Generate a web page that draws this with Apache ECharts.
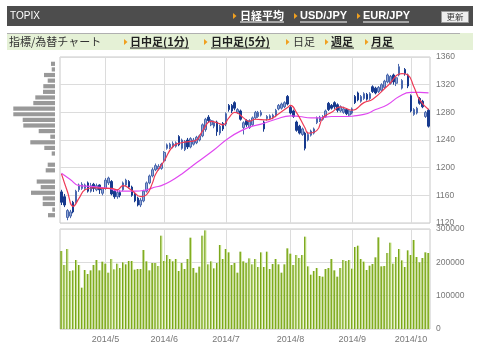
<!DOCTYPE html>
<html>
<head>
<meta charset="utf-8">
<script src="https://cdn.jsdelivr.net/npm/echarts@6/dist/echarts.min.js"></script>
<style>
html,body{margin:0;padding:0;background:#fff}
#main{width:480px;height:355px}
</style>
</head>
<body>
<div id="main"></div>
<script>
// trading days shown on the chart
var dates = [
  '2014/04/09','2014/04/10','2014/04/11','2014/04/14','2014/04/15','2014/04/16','2014/04/17','2014/04/18','2014/04/21','2014/04/22','2014/04/23','2014/04/24','2014/04/25','2014/04/28','2014/04/30',
  '2014/05/01','2014/05/02','2014/05/07','2014/05/08','2014/05/09','2014/05/12','2014/05/13','2014/05/14','2014/05/15','2014/05/16','2014/05/19','2014/05/20','2014/05/21','2014/05/22','2014/05/23','2014/05/26','2014/05/27','2014/05/28','2014/05/29','2014/05/30',
  '2014/06/02','2014/06/03','2014/06/04','2014/06/05','2014/06/06','2014/06/09','2014/06/10','2014/06/11','2014/06/12','2014/06/13','2014/06/16','2014/06/17','2014/06/18','2014/06/19','2014/06/20','2014/06/23','2014/06/24','2014/06/25','2014/06/26','2014/06/27','2014/06/30',
  '2014/07/01','2014/07/02','2014/07/03','2014/07/04','2014/07/07','2014/07/08','2014/07/09','2014/07/10','2014/07/11','2014/07/14','2014/07/15','2014/07/16','2014/07/17','2014/07/18','2014/07/22','2014/07/23','2014/07/24','2014/07/25','2014/07/28','2014/07/29','2014/07/30','2014/07/31',
  '2014/08/01','2014/08/04','2014/08/05','2014/08/06','2014/08/07','2014/08/08','2014/08/11','2014/08/12','2014/08/13','2014/08/14','2014/08/15','2014/08/18','2014/08/19','2014/08/20','2014/08/21','2014/08/22','2014/08/25','2014/08/26','2014/08/27','2014/08/28','2014/08/29',
  '2014/09/01','2014/09/02','2014/09/03','2014/09/04','2014/09/05','2014/09/08','2014/09/09','2014/09/10','2014/09/11','2014/09/12','2014/09/16','2014/09/17','2014/09/18','2014/09/19','2014/09/22','2014/09/24','2014/09/25','2014/09/26','2014/09/29','2014/09/30',
  '2014/10/01','2014/10/02','2014/10/03','2014/10/06','2014/10/07','2014/10/08','2014/10/09'
];

var open = [1165,1158,1128,1130,1150,1150,1168,1170,1170,1178,1166,1176,1168,1175,1163,1170,1178,1180,1166,1158,1164,1168,1175,1180,1172,1162,1156,1146,1152,1166,1178,1188,1197,1198,1199,
  1210,1228,1229,1230,1231,1245,1228,1226,1240,1230,1234,1236,1240,1246,1255,1273,1262,1260,1266,1250,1264,
  1263,1290,1290,1294,1280,1282,1258,1268,1258,1262,1272,1274,1276,1266,1271,1271,1272,1275,1285,1286,1288,1303,
  1287,1282,1266,1260,1248,1250,1240,1247,1250,1265,1268,1270,1274,1293,1290,1294,1291,1282,1280,1284,1276,
  1279,1303,1308,1296,1300,1306,1300,1317,1315,1310,1312,1316,1324,1322,1334,1322,1334,1315,1342,1334,
  1304,1277,1279,1300,1296,1274,1283];
var close = [1150,1146,1138,1136,1136,1166,1175,1176,1175,1166,1174,1170,1174,1168,1170,1182,1185,1162,1158,1164,1160,1178,1182,1172,1160,1152,1146,1153,1166,1178,1188,1197,1203,1202,1205,
  1222,1233,1234,1235,1236,1233,1240,1238,1230,1242,1240,1244,1246,1262,1270,1268,1268,1265,1252,1260,1256,
  1278,1284,1282,1286,1284,1270,1265,1262,1268,1272,1280,1280,1280,1256,1274,1275,1276,1283,1290,1292,1294,1292,
  1279,1274,1254,1250,1256,1228,1248,1253,1256,1272,1273,1274,1282,1284,1286,1288,1283,1288,1285,1278,1282,
  1285,1294,1298,1303,1307,1299,1307,1310,1308,1316,1320,1325,1334,1332,1324,1330,1346,1326,1336,1318,
  1282,1284,1286,1293,1288,1280,1260];
var low = [1146,1143,1124,1127,1134,1148,1165,1168,1168,1164,1164,1165,1166,1162,1160,1168,1175,1160,1155,1155,1157,1166,1173,1170,1158,1150,1144,1143,1150,1164,1176,1186,1195,1196,1197,
  1208,1226,1227,1228,1229,1231,1226,1224,1227,1228,1232,1234,1238,1244,1252,1265,1260,1257,1246,1247,1253,
  1260,1281,1279,1283,1278,1268,1248,1259,1256,1260,1270,1272,1274,1252,1268,1269,1270,1273,1283,1284,1286,1290,
  1277,1272,1252,1248,1246,1225,1238,1245,1248,1263,1266,1268,1272,1282,1284,1285,1280,1280,1278,1276,1274,
  1277,1292,1296,1294,1298,1297,1298,1308,1306,1308,1310,1314,1322,1320,1320,1318,1332,1313,1333,1315,
  1280,1275,1277,1291,1286,1272,1258];
var high = [1168,1162,1140,1139,1152,1168,1177,1179,1177,1180,1178,1178,1177,1176,1172,1185,1187,1182,1168,1168,1167,1180,1184,1182,1174,1164,1158,1156,1168,1180,1190,1200,1206,1205,1207,
  1224,1235,1236,1238,1238,1247,1242,1240,1243,1244,1243,1246,1248,1264,1272,1276,1270,1268,1268,1262,1266,
  1280,1292,1292,1296,1286,1284,1267,1270,1270,1274,1282,1282,1283,1268,1276,1277,1278,1285,1292,1294,1296,1305,
  1289,1284,1268,1262,1258,1252,1252,1255,1258,1274,1275,1276,1284,1295,1292,1296,1293,1290,1288,1286,1284,
  1287,1305,1310,1305,1309,1308,1309,1319,1317,1318,1322,1327,1336,1334,1336,1332,1350,1328,1344,1336,
  1306,1286,1288,1302,1298,1282,1285];

var volume = [234000,192000,240000,174000,176000,207000,192000,124000,177000,165000,176000,192000,207000,176000,202000,
  196000,169000,210000,179000,196000,183000,200000,194000,204000,204000,178000,180000,180000,237000,203000,176000,198000,198000,189000,280000,
  204000,222000,210000,203000,210000,174000,198000,180000,210000,274000,183000,169000,187000,280000,296000,194000,203000,182000,198000,252000,210000,
  240000,230000,192000,198000,169000,232000,203000,198000,212000,194000,210000,186000,230000,186000,232000,180000,195000,210000,194000,169000,194000,242000,
  226000,192000,222000,213000,222000,277000,188000,163000,174000,183000,159000,157000,180000,183000,210000,176000,157000,183000,207000,204000,207000,
  181000,246000,250000,210000,202000,177000,190000,195000,215000,275000,188000,189000,228000,259000,196000,216000,240000,206000,186000,236000,
  222000,267000,216000,200000,213000,230000,228000];

// moving averages: [day index, value]
var maShort = [[0,1191],[2,1166],[4,1144],[6,1156],[8,1168],[11,1171],[15,1170],[17,1170],[19,1168],[21,1174],[24,1167],[27,1158],[29,1161],[31,1178],[32,1190],
  [35,1210],[38,1231],[41,1236],[44,1238],[46,1240],[48,1253],[51,1267],[53,1265],[55,1262],[57,1272],[59,1280],[60,1279],[62,1272],[64,1267],[66,1270],
  [70,1269],[72,1272],[74,1278],[77,1287],[78,1290],[80,1280],[83,1257],[84,1250],[87,1254],[89,1272],[92,1280],[95,1288],[99,1283],[103,1294],[106,1299],
  [111,1318],[116,1336],[118,1334],[120,1317],[122,1298],[125,1284]];
var maLong = [[0,1192],[3,1183],[6,1174],[10,1173],[16,1170],[20,1166],[25,1166],[29,1168],[32,1172],[34,1174],[37,1180],[41,1191],[46,1207],[52,1226],
  [57,1243],[62,1255],[65,1260],[68,1263],[73,1270],[78,1275],[81,1274],[85,1272],[88,1272],[92,1274],[95,1274],[103,1277],[107,1284],[111,1291],
  [115,1303],[119,1309],[122,1309],[125,1308]];

// volume by price, top row first (relative units)
var profileVolume = [4,3.3,11,7.3,11.7,12,19.7,21.7,41.7,41.7,32.3,31.7,16.3,4.7,24.7,10.7,3.3,0,7.3,9.3,0,18.3,14.3,24,12.3,12.3,2.7,7];
var profileBands = profileVolume.map(function (v, i) { return 'b' + i; });

var priceMin = 1120, priceMax = 1360, priceStep = 40;
var volMax = 300000, volStep = 100000;

function monthStart(i) {
  return i > 0 && dates[i].slice(5, 7) !== dates[i - 1].slice(5, 7);
}

var chartDom = document.getElementById('main');
var myChart = echarts.init(chartDom);

var labelFont = 'Liberation Sans';
var jp = '"Noto Sans CJK JP", sans-serif';

function tri(x, y) {
  return { type: 'polygon', shape: { points: [[x, y - 3], [x + 3.5, y], [x, y + 3]] }, style: { fill: '#f0a020' } };
}
function txt(x, y, s, o) {
  o = o || {};
  return { type: 'text', x: x, y: y, style: { text: s, fill: o.fill || '#222', font: (o.bold ? 'bold ' : '') + (o.size || 11) + 'px ' + (o.family || jp), textVerticalAlign: 'middle', textAlign: o.align || 'left' } };
}
function uline(x1, x2, y, c) {
  return { type: 'line', shape: { x1: x1, y1: y, x2: x2, y2: y }, style: { stroke: c, lineWidth: 1 } };
}

var graphics = [
  { type: 'rect', shape: { x: 7, y: 6, width: 466, height: 20 }, style: { fill: '#4d4d4d' } },
  txt(10, 16, 'TOPIX', { fill: '#fff', size: 10, family: labelFont }),
  tri(233, 16), txt(240, 16, '日経平均', { fill: '#fff', bold: true }), uline(240, 284, 22, '#fff'),
  tri(294, 16), txt(300, 16, 'USD/JPY', { fill: '#fff', bold: true, family: labelFont }), uline(300, 347, 22, '#fff'),
  tri(357, 16), txt(363, 16, 'EUR/JPY', { fill: '#fff', bold: true, family: labelFont }), uline(363, 409, 22, '#fff'),
  { type: 'rect', shape: { x: 441.5, y: 11.5, width: 27, height: 11 }, style: { fill: '#eeeeee', stroke: '#999' } },
  txt(455, 17, '更新', { size: 8.5, align: 'center', fill: '#333' }),
  { type: 'rect', shape: { x: 7, y: 33, width: 466, height: 17 }, style: { fill: '#e5f1d6' } },
  uline(7, 460, 33.5, '#b0b0b0'),
  txt(9, 42, '指標/為替チャート', { fill: '#333' }),
  tri(124, 42), txt(130, 42, '日中足(1分)', { bold: true }), uline(130, 189, 48, '#222'),
  tri(204, 42), txt(211, 42, '日中足(5分)', { bold: true }), uline(211, 270, 48, '#222'),
  tri(286, 42), txt(293, 42, '日足', { fill: '#333' }),
  tri(325, 42), txt(331, 42, '週足', { bold: true }), uline(331, 354, 48, '#222'),
  tri(365, 42), txt(371, 42, '月足', { bold: true }), uline(371, 394, 48, '#222')
];

var gridLine = { color: '#dcdcdc', width: 1 };
function plain(v) { return String(v); }

var option = {
  animation: false,
  textStyle: { fontFamily: labelFont },
  graphic: graphics,
  grid: [
    { left: 60, top: 57, width: 370, height: 166, show: true, borderColor: '#c8c8c8' },
    { left: 60, top: 229, width: 370, height: 100, show: true, borderColor: '#c8c8c8' },
    { left: 10, top: 61, width: 45, height: 157 }
  ],
  xAxis: [
    { type: 'category', gridIndex: 0, data: dates, axisLine: { show: false }, axisTick: { show: false }, axisLabel: { show: false },
      splitLine: { show: true, interval: monthStart, alignWithLabel: true, lineStyle: gridLine } },
    { type: 'category', gridIndex: 1, data: dates, axisLine: { show: false }, axisTick: { show: false },
      axisLabel: { interval: monthStart, color: '#777', fontSize: 9, margin: 6,
        formatter: function (v) { return v.slice(0, 4) + '/' + parseInt(v.slice(5, 7), 10); } },
      splitLine: { show: true, interval: monthStart, alignWithLabel: true, lineStyle: gridLine } },
    { type: 'value', gridIndex: 2, min: 0, max: 45, inverse: true, show: false }
  ],
  yAxis: [
    { type: 'value', gridIndex: 0, position: 'right', min: priceMin, max: priceMax, interval: priceStep,
      axisLine: { show: false }, axisTick: { show: false }, axisLabel: { color: '#777', fontSize: 8.5, margin: 6, formatter: plain },
      splitLine: { lineStyle: gridLine } },
    { type: 'value', gridIndex: 1, position: 'right', min: 0, max: volMax, interval: volStep,
      axisLine: { show: false }, axisTick: { show: false }, axisLabel: { color: '#777', fontSize: 8.5, margin: 6, formatter: plain },
      splitLine: { lineStyle: gridLine } },
    { type: 'category', gridIndex: 2, data: profileBands, inverse: true, show: false }
  ],
  series: [
    {
      type: 'candlestick', xAxisIndex: 0, yAxisIndex: 0, barWidth: '70%',
      data: dates.map(function (d, i) { return [open[i], close[i], low[i], high[i]]; }),
      itemStyle: { color: '#93a9d6', color0: '#173a8e', borderColor: '#4a68ae', borderColor0: '#173a8e', borderWidth: 1 }
    },
    {
      type: 'line', xAxisIndex: 0, yAxisIndex: 0, smooth: true, showSymbol: false, z: 3,
      data: maLong.map(function (p) { return [dates[p[0]], p[1]]; }),
      lineStyle: { color: '#e048f0', width: 1.2 }
    },
    {
      type: 'line', xAxisIndex: 0, yAxisIndex: 0, smooth: true, showSymbol: false, z: 4,
      data: maShort.map(function (p) { return [dates[p[0]], p[1]]; }),
      lineStyle: { color: '#ee3a55', width: 1.2 }
    },
    {
      type: 'bar', xAxisIndex: 1, yAxisIndex: 1, barCategoryGap: '22%', data: volume,
      itemStyle: { color: new echarts.graphic.LinearGradient(0, 0, 1, 0, [
        { offset: 0, color: '#6f9c10' }, { offset: 0.5, color: '#86b024' },
        { offset: 0.55, color: '#b4d470' }, { offset: 1, color: '#cfe6a0' }]) }
    },
    {
      type: 'bar', xAxisIndex: 2, yAxisIndex: 2, barCategoryGap: '25%', data: profileVolume,
      itemStyle: { color: '#999999' }
    }
  ]
};

option && myChart.setOption(option);
</script>
</body>
</html>
